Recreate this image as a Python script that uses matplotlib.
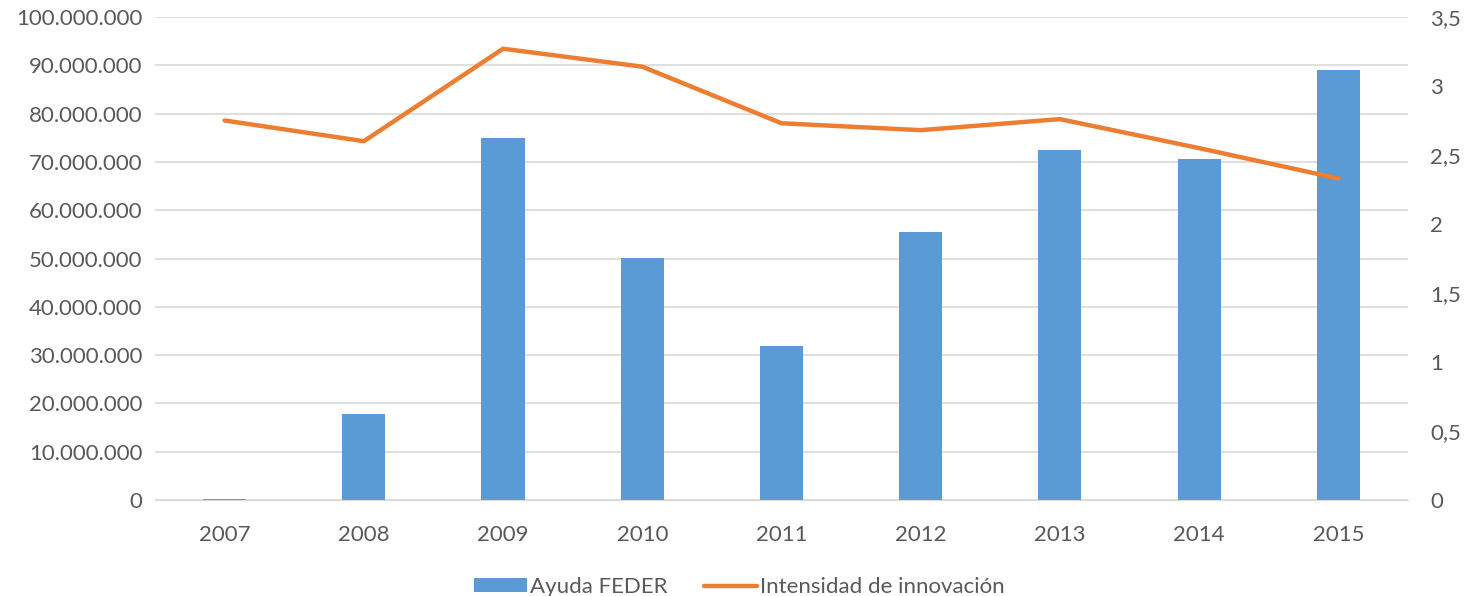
import matplotlib
matplotlib.use("Agg")
import matplotlib.pyplot as plt
from matplotlib.ticker import FuncFormatter, MultipleLocator
import numpy as np

years = ["2007", "2008", "2009", "2010", "2011", "2012", "2013", "2014", "2015"]
ayuda_feder = [150000, 17800000, 74900000, 50200000, 31800000, 55400000, 72500000, 70700000, 89000000]
intensidad = [2.75, 2.60, 3.27, 3.14, 2.73, 2.68, 2.76, 2.55, 2.33]

plt.rcParams["font.family"] = ["Lato", "DejaVu Sans"]
TXT = "#595959"
BLUE = "#5b9bd5"
ORANGE = "#ed7d31"
FS = 16

fig = plt.figure(figsize=(14.64, 5.96), dpi=100)
ax = fig.add_axes([0.1059, 0.161, 0.8558, 0.8105])
ax2 = ax.twinx()

x = np.arange(len(years))
ax.bar(x, ayuda_feder, width=0.31, color=BLUE, zorder=2, label="Ayuda FEDER")
ax2.plot(x, intensidad, color=ORANGE, lw=3.2, solid_capstyle="round", label="Intensidad de innovación")

ax.set_xlim(-0.5, len(years) - 0.5)
ax.set_ylim(0, 100000000)
ax2.set_ylim(0, 3.5)
ax.yaxis.set_major_locator(MultipleLocator(10000000))
ax2.yaxis.set_major_locator(MultipleLocator(0.5))
ax.yaxis.set_major_formatter(FuncFormatter(lambda v, p: f"{int(v):,}".replace(",", ".")))
ax2.yaxis.set_major_formatter(FuncFormatter(lambda v, p: f"{v:g}".replace(".", ",")))
ax.set_xticks(x)
ax.set_xticklabels(years)

ax.grid(axis="y", color="#d9d9d9", lw=1.2, zorder=0)
ax.set_axisbelow(True)
for a in (ax, ax2):
    for s in a.spines.values():
        s.set_visible(False)
    a.tick_params(length=0, labelsize=FS, colors=TXT)
ax.spines["bottom"].set_visible(True)
ax.spines["bottom"].set_color("#d9d9d9")
ax.tick_params(axis="x", pad=18)
ax.tick_params(axis="y", pad=9)
ax2.tick_params(axis="y", pad=16)

h1, l1 = ax.get_legend_handles_labels()
h2, l2 = ax2.get_legend_handles_labels()
fig.legend(h1 + h2, l1 + l2, loc="lower center", bbox_to_anchor=(0.505, -0.035), ncol=2,
           frameon=False, fontsize=FS, labelcolor=TXT, handlelength=2.4, handletextpad=0.15,
           columnspacing=1.6, handleheight=0.55)

fig.savefig("out.png", dpi=100)
